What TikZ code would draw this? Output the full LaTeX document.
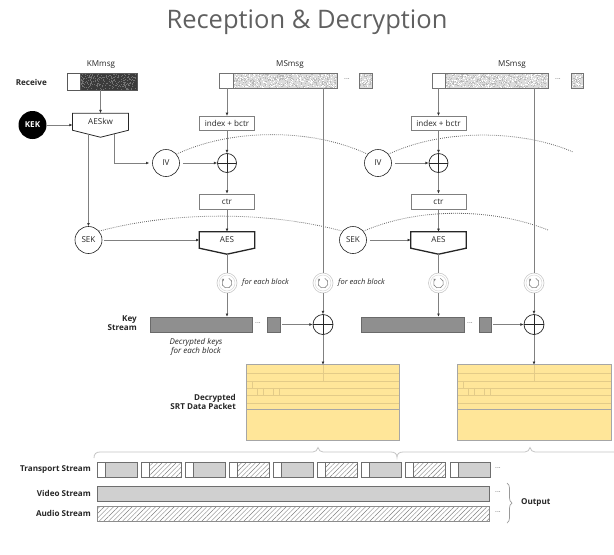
\documentclass[tikz,border=0pt]{standalone}
\usepackage{fontspec}
\setmainfont{Open Sans}
\usetikzlibrary{arrows.meta,calc,patterns.meta,decorations.pathreplacing}

\definecolor{ink}{HTML}{262626}
\definecolor{wire}{HTML}{808080}
\definecolor{tipc}{HTML}{333333}
\definecolor{titlec}{HTML}{606060}
\definecolor{boxline}{HTML}{7F7F7F}
\definecolor{kmdark}{HTML}{3A3A3A}
\definecolor{msbase}{HTML}{DCDCDC}
\definecolor{ksfill}{HTML}{8F8F8F}
\definecolor{ksline}{HTML}{6A6A6A}
\definecolor{pkfill}{HTML}{FFE699}
\definecolor{pkrule}{HTML}{E3CB88}
\definecolor{pkedge}{HTML}{A6A6A6}
\definecolor{tsfill}{HTML}{D0D0D0}
\definecolor{tsline}{HTML}{6E6E6E}
\definecolor{bracec}{HTML}{C4C4C4}
\definecolor{ringc}{HTML}{C8C8C8}

% random specks for the textured message bars
\newcommand\speckles[6]{%
  \foreach \k in {1,...,#5}{%
    \pgfmathsetmacro\spx{#1+rnd*(#3-#1-1)}%
    \pgfmathsetmacro\spy{#2+rnd*(#4-#2-1)}%
    \fill[#6] (\spx,\spy) rectangle ++(1,1);%
  }%
}

% pentagon outline under a cipher node
\newcommand\chevron[3]{%
  \draw[draw=ink, line width=#3, line join=miter] (#1.north west) -- (#1.north east)
    -- (#1.south east) -- ($(#1.south)+(0,#2)$) -- (#1.south west) -- cycle;%
}

% header rules of a decrypted packet
\newcommand\pktrules[1]{%
  \foreach \ry in {8,16,23,30,38}
    \draw[pkrule, line width=0.5pt] ($(#1.north west)+(0,\ry)$) -- ($(#1.north east)+(0,\ry)$);
  \draw[pkrule, line width=0.5pt] (#1.north) -- ($(#1.north)+(0,16)$);
  \draw[pkrule, line width=0.5pt] ($(#1.north west)+(5,16)$) -- ++(0,7);
  \foreach \rx in {10,16,26,32}
    \draw[pkrule, line width=0.5pt] ($(#1.north west)+(\rx,23)$) -- ++(0,7);
  \draw[pkedge, line width=0.8pt] ($(#1.north west)+(0,45)$) -- ($(#1.north east)+(0,45)$);
  \draw[pkedge, line width=0.8pt] (#1.north west) rectangle (#1.south east);
}

\tikzset{
  lbl/.style={font=\fontsize{8.1}{9.5}\selectfont, text=ink, inner sep=0pt},
  hd/.style={font=\fontsize{8.1}{9.6}\selectfont\bfseries, text=ink, inner sep=0pt},
  note/.style={font=\fontsize{7.5}{8.6}\selectfont\itshape, text=ink, inner sep=0pt},
  conn/.style={draw=wire, line width=0.6pt},
  arr/.style={conn, -{Latex[length=3.2pt,width=2.8pt,color=tipc]}},
  arcline/.style={draw=black!60, line width=0.8pt, dash pattern=on 0.8pt off 1.2pt},
  opbox/.style={rectangle, draw=boxline, fill=white, line width=0.7pt,
    minimum width=55pt, minimum height=14.5pt, inner sep=0pt, lbl},
  cipher/.style={rectangle, minimum width=55pt, minimum height=16pt, inner sep=0pt, lbl},
  disc/.style={circle, draw=ink, fill=white, line width=0.6pt, minimum size=27pt,
    inner sep=0pt, lbl},
  xorop/.style={circle, draw=ink, fill=white, line width=0.7pt, minimum size=19pt,
    inner sep=0pt,
    path picture={\draw[ink, line width=0.7pt]
      (path picture bounding box.north) -- (path picture bounding box.south)
      (path picture bounding box.west) -- (path picture bounding box.east);}},
  refresh/.style={circle, draw=ringc, fill=white, line width=0.6pt, minimum size=20pt,
    inner sep=0pt,
    path picture={
      \draw[black!15, line width=0.5pt] (path picture bounding box.center) circle[radius=8pt];
      \draw[black!50, line width=0.6pt, -{Stealth[length=2pt,width=2.6pt]}]
        ($(path picture bounding box.center)+(70:5pt)$) arc[start angle=70, end angle=-235, radius=5pt];}},
  msgbar/.style={rectangle, inner sep=0pt, minimum height=15pt},
  ksbar/.style={rectangle, draw=ksline, fill=ksfill, line width=0.6pt, inner sep=0pt, minimum height=15pt},
  pkt/.style={rectangle, fill=pkfill, inner sep=0pt, minimum height=75pt},
  dotsl/.style={font=\fontsize{7}{8}\selectfont, text=black!55, inner sep=0pt},
  hatch/.style={pattern={Lines[angle=45,distance=3.3pt,line width=0.45pt]}, pattern color=black!50},
}

\begin{document}
\begin{tikzpicture}[x=1pt,y=-1pt]
\useasboundingbox (0,0) rectangle (614,555);
\pgfmathsetseed{11}

\node[font=\fontsize{25.5}{30}\selectfont, text=titlec, inner sep=0pt] (title) at (307,22) {Reception \& Decryption};

% ---------- key material message ----------
\node[hd, anchor=east] (recv) at (47,82) {Receive};
\node[lbl] (kmlab) at (101,65) {KMmsg};
\node[msgbar, fill=kmdark, minimum width=70pt, minimum height=17pt] (km) at (102,81.5) {};
\speckles{80}{73}{137}{90}{330}{black!55}
\speckles{80}{73}{137}{90}{120}{black!75}
\draw[draw=black!65, fill=white, line width=0.6pt] (km.north west) rectangle ($(km.south west)+(13,0)$);
\draw[draw=black!65, line width=0.6pt] (km.north west) rectangle (km.south east);

% ---------- stream messages ----------
\node[lbl] (mslab1) at (290,65) {MSmsg};
\node[msgbar, fill=msbase, minimum width=118pt] (ms1) at (278,80.5) {};
\speckles{233}{73}{337}{88}{380}{black!28}
\speckles{233}{73}{337}{88}{220}{white}
\node[msgbar, fill=msbase, minimum width=13pt] (ms1p) at (365.5,80.5) {};
\speckles{359}{73}{372}{88}{50}{black!28}
\speckles{359}{73}{372}{88}{28}{white}
\draw[draw=black!55, fill=white, line width=0.6pt] (ms1.north west) rectangle ($(ms1.south west)+(14,0)$);
\draw[draw=black!55, line width=0.6pt] (ms1.north west) rectangle (ms1.south east);
\draw[draw=black!55, line width=0.6pt] (ms1p.north west) rectangle (ms1p.south east);
\node[dotsl] (ms1d) at (347,80.5) {···};

\node[lbl] (mslab2) at (512,65) {MSmsg};
\node[msgbar, fill=msbase, minimum width=116pt] (ms2) at (490,80.5) {};
\speckles{445}{73}{548}{88}{380}{black!28}
\speckles{445}{73}{548}{88}{220}{white}
\node[msgbar, fill=msbase, minimum width=12pt] (ms2p) at (577,80.5) {};
\speckles{571}{73}{583}{88}{46}{black!28}
\speckles{571}{73}{583}{88}{26}{white}
\draw[draw=black!55, fill=white, line width=0.6pt] (ms2.north west) rectangle ($(ms2.south west)+(13,0)$);
\draw[draw=black!55, line width=0.6pt] (ms2.north west) rectangle (ms2.south east);
\draw[draw=black!55, line width=0.6pt] (ms2p.north west) rectangle (ms2p.south east);
\node[dotsl] (ms2d) at (558,80.5) {···};

% ---------- key unwrapping ----------
\node[circle, fill=black, minimum size=28pt, inner sep=0pt, hd, text=white] (kek) at (32.5,125) {KEK};
\node[cipher, minimum width=55.6pt, minimum height=16.7pt] (aeskw) at (100.5,121.7) {AESkw};
\chevron{aeskw}{7}{0.8pt}
\coordinate (kwtip) at ($(aeskw.south)+(0,7)$);
\coordinate (kwR) at ($(aeskw.south east)!0.5!(kwtip)$);
\coordinate (kwL) at ($(aeskw.south west)!0.57!(kwtip)$);

% ---------- first counter column ----------
\node[opbox] (idx1) at (227,123.5) {index + bctr};
\node[xorop] (xor1) at (227,163) {};
\node[opbox, minimum height=15pt] (ctr1) at (227,201.5) {ctr};
\node[cipher] (aes1) at (227,240) {AES};
\chevron{aes1}{6}{1.3pt}
\coordinate (aes1tip) at ($(aes1.south)+(0,6)$);
\node[disc] (iv1) at (166,163) {IV};
\node[disc] (sek1) at (88.5,240) {SEK};

% ---------- second counter column ----------
\node[opbox] (idx2) at (438.5,123.5) {index + bctr};
\node[xorop] (xor2) at (438.5,163) {};
\node[opbox, minimum height=15pt] (ctr2) at (438.5,201.5) {ctr};
\node[cipher] (aes2) at (438.5,240) {AES};
\chevron{aes2}{6}{1.3pt}
\coordinate (aes2tip) at ($(aes2.south)+(0,6)$);
\node[disc] (iv2) at (378,163) {IV};
\node[disc] (sek2) at (353,240) {SEK};

% key / IV carried on to the next message
\coordinate (ivrun) at (573,152);
\coordinate (sekrun) at (548,230);
\draw[arcline] (iv1.40) .. controls +(55,-26) and +(-55,-26) .. (iv2.140);
\draw[arcline] (iv2.40) .. controls +(55,-26) and +(-50,-22) .. (ivrun);
\draw[arcline] (sek1.40) .. controls +(75,-20) and +(-75,-20) .. (sek2.140);
\draw[arcline] (sek2.40) .. controls +(55,-24) and +(-55,-22) .. (sekrun);

% ---------- per-block loops ----------
\node[refresh] (rf1a) at (227,283) {};
\node[refresh] (rf1b) at (323,283) {};
\node[refresh] (rf2a) at (438.5,283) {};
\node[refresh] (rf2b) at (534,283) {};
\node[note, anchor=west] (fe1) at (242,283) {for each block};
\node[note, anchor=west] (fe2) at (338,283) {for each block};

% ---------- key stream ----------
\node[hd, align=right, anchor=east] (kslab) at (137,323) {Key\\Stream};
\node[ksbar, minimum width=102pt] (ks1) at (201,324.5) {};
\node[dotsl] (ks1d) at (258,324.5) {···};
\node[ksbar, minimum width=13pt] (ks1p) at (273.5,324.5) {};
\node[xorop, minimum size=20pt] (xk1) at (323,324.5) {};
\node[ksbar, minimum width=103pt] (ks2) at (412.5,324.5) {};
\node[dotsl] (ks2d) at (470,324.5) {···};
\node[ksbar, minimum width=12pt] (ks2p) at (485,324.5) {};
\node[xorop, minimum size=20pt] (xk2) at (534,324.5) {};
\node[note, font=\fontsize{8}{8.6}\selectfont\itshape, align=center] (kdesc) at (196,347) {Decrypted keys\\for each block};

% ---------- decrypted packets ----------
\node[hd, align=right, anchor=east] (pklab) at (236,402) {Decrypted\\SRT Data Packet};
\node[pkt, minimum width=152pt] (pk1) at (323,402.5) {};
\pktrules{pk1}
\node[pkt, minimum width=153pt] (pk2) at (534.5,402.5) {};
\pktrules{pk2}

% ---------- connectors ----------
\draw[arr] (km.south -| kwtip) -- (aeskw.north -| kwtip);
\draw[arr] (kek.east) -- (kek.east -| aeskw.west);
\draw[arr] (kwR) |- ([xshift=-3pt]iv1.west);
\draw[arr] (kwL) -- (kwL |- sek1.north);

\draw[arr] (ms1.south -| idx1) -- (idx1.north);
\draw[arr] (idx1) -- (xor1);
\draw[arr, shorten <=3pt] (iv1) -- (xor1);
\draw[arr] (xor1) -- (ctr1);
\draw[arr] (ctr1) -- (aes1);
\draw[arr, shorten <=1.5pt] (sek1) -- (aes1);
\draw[conn] (aes1tip) -- (rf1a.north);
\draw[arr] (rf1a.south) -- (rf1a.south |- ks1.north);
\draw[conn] (ms1.south -| rf1b) -- (rf1b.north);
\draw[arr] (rf1b) -- (xk1);
\draw[arr, shorten <=2pt] (ks1p) -- (xk1);
\draw[arr] (xk1) -- (pk1.north -| xk1);

\draw[arr] (ms2.south -| idx2) -- (idx2.north);
\draw[arr] (idx2) -- (xor2);
\draw[arr, shorten <=3pt] (iv2) -- (xor2);
\draw[arr] (xor2) -- (ctr2);
\draw[arr] (ctr2) -- (aes2);
\draw[arr, shorten <=3pt] (sek2) -- (aes2);
\draw[conn] (aes2tip) -- (rf2a.north);
\draw[arr] (rf2a.south) -- (rf2a.south |- ks2.north);
\draw[conn] (ms2.south -| rf2b) -- (rf2b.north);
\draw[arr] (rf2b) -- (xk2);
\draw[arr, shorten <=2pt] (ks2p) -- (xk2);
\draw[arr] (xk2) -- (pk2.north -| xk2);

% ---------- packets gathered into the transport stream ----------
\draw[bracec, line width=0.8pt]
  (94,458) .. controls (94,454) and (96,452) .. (100,452) -- (313,452)
  .. controls (316,452) and (317,450) .. (318,447.5)
  .. controls (319,450) and (320,452) .. (323,452) -- (391,452)
  .. controls (395,452) and (397,454) .. (397,457.5)
  .. controls (397,454) and (399,452) .. (403,452) -- (525,452)
  .. controls (528,452) and (529,450) .. (530,447.5)
  .. controls (531,450) and (532,452) .. (535,452) -- (614,452);

\node[hd, anchor=east] (tslab) at (91,469.5) {Transport Stream};
\node[hd, anchor=east] (vslab) at (91,493.5) {Video Stream};
\node[hd, anchor=east] (aslab) at (91,513.5) {Audio Stream};

\foreach \i in {0,...,8}{%
  \pgfmathsetmacro\tx{97+44.1*\i}%
  \ifodd\i
    \draw[draw=tsline, line width=0.6pt, hatch] (\tx+8,462) rectangle (\tx+40,477);
  \else
    \draw[draw=tsline, line width=0.6pt, fill=tsfill] (\tx+8,462) rectangle (\tx+40,477);
  \fi
  \draw[draw=tsline, line width=0.6pt, fill=white] (\tx,462) rectangle (\tx+8,477);
}
\node[rectangle, draw=tsline, fill=tsfill, line width=0.6pt, minimum width=392pt, minimum height=15pt, inner sep=0pt] (video) at (293,493.5) {};
\node[rectangle, draw=black!45, hatch, line width=0.6pt, minimum width=392pt, minimum height=15pt, inner sep=0pt] (audio) at (293,513.5) {};
\node[dotsl] (tsd) at (498,469.5) {···};
\node[dotsl] (vsd) at (498,493.5) {···};
\node[dotsl] (asd) at (498,513.5) {···};

\draw[draw=black!40, line width=0.7pt, decorate, decoration={brace, amplitude=5pt}] (507,483) -- (507,523);
\node[hd, anchor=west] (outlab) at (521,503) {Output};

\end{tikzpicture}
\end{document}
